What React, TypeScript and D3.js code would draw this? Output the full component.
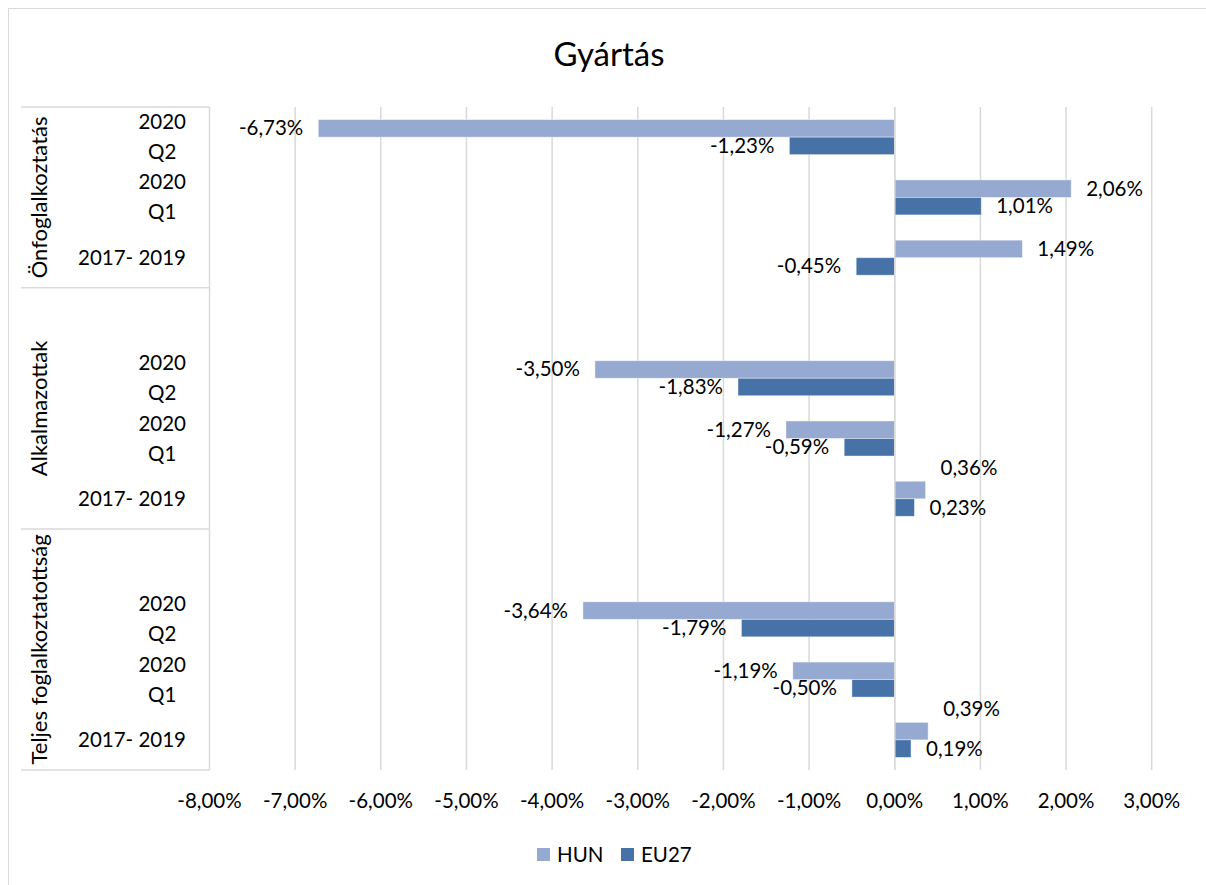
import React, { useEffect, useRef } from "react";
import * as d3 from "d3";

const title = "Gyártás";
const groups = ["Önfoglalkoztatás", "Alkalmazottak", "Teljes foglalkoztatottság"];
const periods = ["2020 Q2", "2020 Q1", "2017- 2019"];
const hunValues = [
  [-6.73, 2.06, 1.49],
  [-3.5, -1.27, 0.36],
  [-3.64, -1.19, 0.39],
];
const eu27Values = [
  [-1.23, 1.01, -0.45],
  [-1.83, -0.59, 0.23],
  [-1.79, -0.5, 0.19],
];
const seriesNames = ["HUN", "EU27"];
const seriesColors = ["#95A9D1", "#4672A8"];
const xTicks = [-8, -7, -6, -5, -4, -3, -2, -1, 0, 1, 2, 3];

const FONT = "Lato, 'Open Sans', sans-serif";

export default function App() {
  const ref = useRef<SVGSVGElement | null>(null);

  useEffect(() => {
    const svg = d3.select(ref.current);
    svg.selectAll("*").remove();

    const W = 1206, H = 885;
    const left = 209.5, right = 1151.7, top = 107, bottom = 770;
    const fs = 20.5;
    const fmt = d3.formatLocale({ decimal: ",", thousands: " ", grouping: [3], currency: ["", ""], minus: "-" }).format(".2f");
    const pct = (v: number) => fmt(v) + "%";

    type Slot = { key: string; g: number; p: number };
    const slots: Slot[] = [];
    groups.forEach((_, gi) => {
      if (gi > 0) slots.push({ key: `${gi}-blank`, g: gi, p: -1 });
      periods.forEach((_, pi) => slots.push({ key: `${gi}-${pi}`, g: gi, p: pi }));
    });

    const x = d3.scaleLinear().domain([-8, 3]).range([left, right]);
    const y = d3.scaleBand<string>().domain(slots.map((s) => s.key)).range([top, bottom]).paddingInner(0).paddingOuter(0);
    const barH = 17.5;
    const inner = d3.scaleBand<number>().domain([0, 1]).range([0, barH * 2]);
    const offset = (y.bandwidth() - barH * 2) / 2;

    svg.append("rect").attr("x", 8.5).attr("y", 8.5).attr("width", W).attr("height", H)
      .attr("fill", "white").attr("stroke", "#D9D9D9").attr("stroke-width", 1);

    svg.append("text").attr("x", 609).attr("y", 66).attr("text-anchor", "middle")
      .attr("font-family", FONT).attr("font-size", 33).attr("fill", "#000").text(title);

    svg.append("g").selectAll("line").data(xTicks.slice(1)).join("line")
      .attr("x1", (d) => x(d)).attr("x2", (d) => x(d)).attr("y1", top).attr("y2", bottom)
      .attr("stroke", "#D9D9D9").attr("stroke-width", 1.5);

    const lineColor = "#D9D9D9";
    svg.append("line").attr("x1", left).attr("x2", left).attr("y1", top).attr("y2", bottom)
      .attr("stroke", lineColor).attr("stroke-width", 1.5);
    const groupBounds = groups.map((_, gi) => {
      const ks = slots.filter((s) => s.g === gi);
      const y0 = y(ks[0].key)!;
      const y1 = y(ks[ks.length - 1].key)! + y.bandwidth();
      return [y0, y1];
    });
    const hLines = [top, ...groupBounds.map((b) => b[1])];
    svg.append("g").selectAll("line").data(hLines).join("line")
      .attr("x1", 21).attr("x2", left).attr("y1", (d) => d).attr("y2", (d) => d)
      .attr("stroke", lineColor).attr("stroke-width", 1.5);

    svg.append("g").selectAll("text").data(xTicks).join("text")
      .attr("x", (d) => x(d)).attr("y", 808).attr("text-anchor", "middle")
      .attr("font-family", FONT).attr("font-size", fs).attr("fill", "#000").text((d) => pct(d));

    const catRight = 186;
    const catG = svg.append("g").attr("font-family", FONT).attr("font-size", fs).attr("fill", "#000");
    slots.filter((s) => s.p >= 0).forEach((s) => {
      const cy = y(s.key)! + y.bandwidth() / 2;
      const words = periods[s.p].split(" ");
      if (words.length === 2 && !periods[s.p].includes("-")) {
        const t1 = catG.append("text").attr("x", catRight).attr("y", cy - 15 + 7).attr("text-anchor", "end").text(words[0]);
        const w1 = (t1.node() as SVGTextElement).getComputedTextLength();
        catG.append("text").attr("x", catRight - w1 / 2).attr("y", cy + 15 + 7).attr("text-anchor", "middle").text(words[1]);
      } else {
        catG.append("text").attr("x", catRight).attr("y", cy + 7).attr("text-anchor", "end").text(periods[s.p]);
      }
    });

    groups.forEach((g, gi) => {
      const cy = (groupBounds[gi][0] + groupBounds[gi][1]) / 2;
      svg.append("text").attr("transform", `translate(47,${cy}) rotate(-90)`)
        .attr("text-anchor", "middle").attr("font-family", FONT).attr("font-size", 22)
        .attr("fill", "#000").text(g);
    });

    const barsG = svg.append("g");
    const labelsG = svg.append("g").attr("font-family", FONT).attr("font-size", fs).attr("fill", "#000");
    const gap = 15;
    const approxW = (s: string) => s.length * 10.5;
    slots.filter((s) => s.p >= 0).forEach((s) => {
      const vals = [hunValues[s.g][s.p], eu27Values[s.g][s.p]];
      const y0 = y(s.key)! + offset;
      vals.forEach((v, si) => {
        const by = y0 + inner(si)!;
        barsG.append("rect")
          .attr("x", Math.min(x(0), x(v))).attr("y", by)
          .attr("width", Math.abs(x(v) - x(0))).attr("height", barH)
          .attr("fill", seriesColors[si]).attr("stroke", "#ffffff").attr("stroke-opacity", 0.5).attr("stroke-width", 0.8);
      });
      vals.forEach((v, si) => {
        const by = y0 + inner(si)! + barH / 2;
        const txt = pct(v);
        const lx = v >= 0 ? x(v) + gap : x(v) - gap;
        let ly = by + 7;
        if (si === 0 && v >= 0 && vals[1] >= 0) {
          const euEnd = x(vals[1]) + gap + approxW(pct(vals[1]));
          if (lx < euEnd) ly -= 22;
        }
        labelsG.append("text").attr("x", lx).attr("y", ly)
          .attr("text-anchor", v >= 0 ? "start" : "end").text(txt);
      });
    });

    svg.append("line").attr("x1", x(0)).attr("x2", x(0)).attr("y1", top).attr("y2", bottom)
      .attr("stroke", "#D9D9D9").attr("stroke-width", 1.5);

    const leg = svg.append("g").attr("font-family", FONT).attr("font-size", fs);
    const legX = [537, 621];
    seriesNames.forEach((n, i) => {
      leg.append("rect").attr("x", legX[i]).attr("y", 848).attr("width", 13).attr("height", 13).attr("fill", seriesColors[i]);
      leg.append("text").attr("x", legX[i] + 20).attr("y", 862).attr("fill", "#000").text(n);
    });
  }, []);

  return (
    <svg ref={ref} width={1206} height={885} style={{ position: "absolute", left: 0, top: 0, display: "block" }} />
  );
}
